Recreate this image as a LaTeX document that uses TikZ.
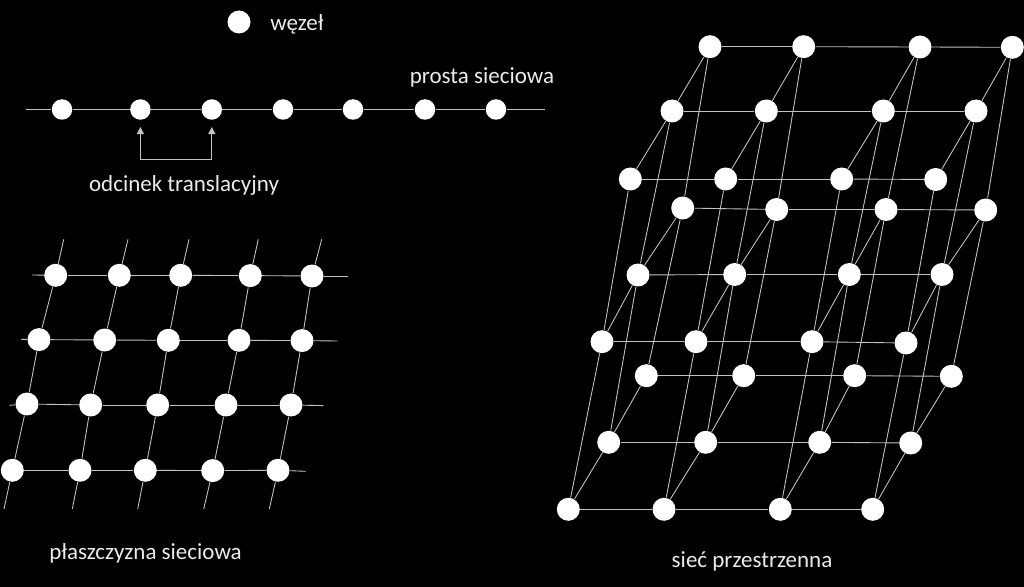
\documentclass[tikz,border=0pt]{standalone}
\usepackage{fontspec}
\setmainfont{Carlito}
\usetikzlibrary{arrows.meta, positioning}
\tikzset{
    knot/.style={circle, fill=white, inner sep=0pt, minimum size=0.46cm},
    knotsmall/.style={circle, fill=white, inner sep=0pt, minimum size=0.41cm},
    gridline/.style={draw=white!76!black, line width=0.5pt},
    caption/.style={text=white!92!black, font=\fontsize{13.1}{16}\selectfont, inner sep=0pt}
}

\begin{document}
\begin{tikzpicture}[x=0.02cm, y=-0.02cm]
        \useasboundingbox (0,0) rectangle (1024,587);
        \fill[black] (0,0) rectangle (1024,587);

        % Legend
        \node[knot] (legend) at (239,22) {};
        \node[caption, anchor=west] (legendtext) at (270,24) {węzeł};

        % Lattice line
        \foreach \name/\x in {l1/62,l2/140.4,l3/211.8,l4/283,l5/353,l6/425,l7/496} {
            \node[knotsmall] (\name) at (\x,109.5) {};
        }
        \coordinate (lstart) at (26,109.5);
        \coordinate (lend) at (544.6,109.5);
        \draw[gridline] (lstart) -- (l1);
        \foreach \a/\b in {l1/l2,l2/l3,l3/l4,l4/l5,l5/l6,l6/l7} {
            \draw[gridline] (\a) -- (\b);
        }
        \draw[gridline] (l7) -- (lend);
        \node[caption] (linelabel) at (482,77) {prosta sieciowa};

        % Translation segment
        \coordinate (tipL) at (140.4,127);
        \coordinate (tipR) at (211.8,127);
        \coordinate (cornerL) at (140.4,159);
        \coordinate (cornerR) at (211.8,159);
        \draw[gridline, {Triangle[length=4pt, width=4pt]}-{Triangle[length=4pt, width=4pt]}] (tipL) -- (cornerL) -- (cornerR) -- (tipR);
        \node[caption] (seglabel) at (184,185) {odcinek translacyjny};

        % Lattice plane
        \foreach \name/\x/\y in {p11/55.7/275.3,p12/119.3/275.3,p13/180.7/275.3,p14/250.3/275.6,p15/312/276,
                                 p21/39/339.6,p22/104.7/340,p23/168.3/340.3,p24/239/340.3,p25/302/340.6,
                                 p31/27/404,p32/90.7/405,p33/157.7/405,p34/226/405,p35/291/405,
                                 p41/12.3/470.3,p42/80/470.3,p43/145.3/470.3,p44/212.7/470.6,p45/278/470.3} {
            \node[knot] (\name) at (\x,\y) {};
        }
        \foreach \r/\xa/\ya/\xb/\yb in {1/32/275/348.3/276,2/21/339.3/337.7/341,3/9.3/405.3/323.3/405.6} {
            \coordinate (rowa\r) at (\xa,\ya);
            \coordinate (rowb\r) at (\xb,\yb);
            \draw[gridline] (rowa\r) -- (p\r1);
            \draw[gridline] (p\r5) -- (rowb\r);
        }
        \coordinate (rowb4) at (306,471.3);
        \draw[gridline] (p45) -- (rowb4);
        \foreach \r in {1,2,3,4} {
            \foreach \i/\j in {1/2,2/3,3/4,4/5} {
                \draw[gridline] (p\r\i) -- (p\r\j);
            }
        }
        \foreach \c/\xa/\xb in {1/63.7/4,2/128/72.3,3/189/137.7,4/258.3/203.7,5/321.7/269.3} {
            \coordinate (cola\c) at (\xa,239.3);
            \coordinate (colb\c) at (\xb,509);
            \draw[gridline] (cola\c) -- (p1\c);
            \draw[gridline] (p4\c) -- (colb\c);
            \foreach \i/\j in {1/2,2/3,3/4} {
                \draw[gridline] (p\i\c) -- (p\j\c);
            }
        }
        \node[caption] (planelabel) at (145.5,553) {płaszczyzna sieciowa};

        % Space lattice
        \foreach \name/\x/\y in {a1/710/46.7,a2/803.7/46.7,a3/920/47,a4/1012.3/47.3,
                                 b1/672/111,b2/766.3/111,b3/883.3/111,b4/976/111,
                                 c1/630.3/179,c2/725.7/179,c3/841.7/179,c4/935.7/179.5,
                                 d1/682.7/208,d2/776.7/209.5,d3/886/209.5,d4/985.7/210,
                                 e1/638/275,e2/734.7/274.5,e3/849.3/274.5,e4/942/274.5,
                                 f1/602/341.7,f2/696/341.7,f3/812/341.7,f4/906/343,
                                 g1/646.3/375.7,g2/743.7/375.7,g3/854.7/375.7,g4/951.3/376.3,
                                 h1/608.7/442.3,h2/705.7/442.3,h3/819.7/442.3,h4/910.7/443,
                                 i1/568.3/509.3,i2/664/509.3,i3/780.3/509.3,i4/872.7/509.3} {
            \node[knot] (\name) at (\x,\y) {};
        }
        \foreach \r in {a,b,c,d,e,f,g,h,i} {
            \foreach \s/\t in {1/2,2/3,3/4} {
                \draw[gridline] (\r\s) -- (\r\t);
            }
        }
        \foreach \c in {1,2,3,4} {
            \foreach \s/\t in {a/b,b/c,d/e,e/f,g/h,h/i,a/d,d/g,b/e,e/h,c/f,f/i} {
                \draw[gridline] (\s\c) -- (\t\c);
            }
        }
        \node[caption] (spacelabel) at (752,561.5) {sieć przestrzenna};
    \end{tikzpicture}
\end{document}
